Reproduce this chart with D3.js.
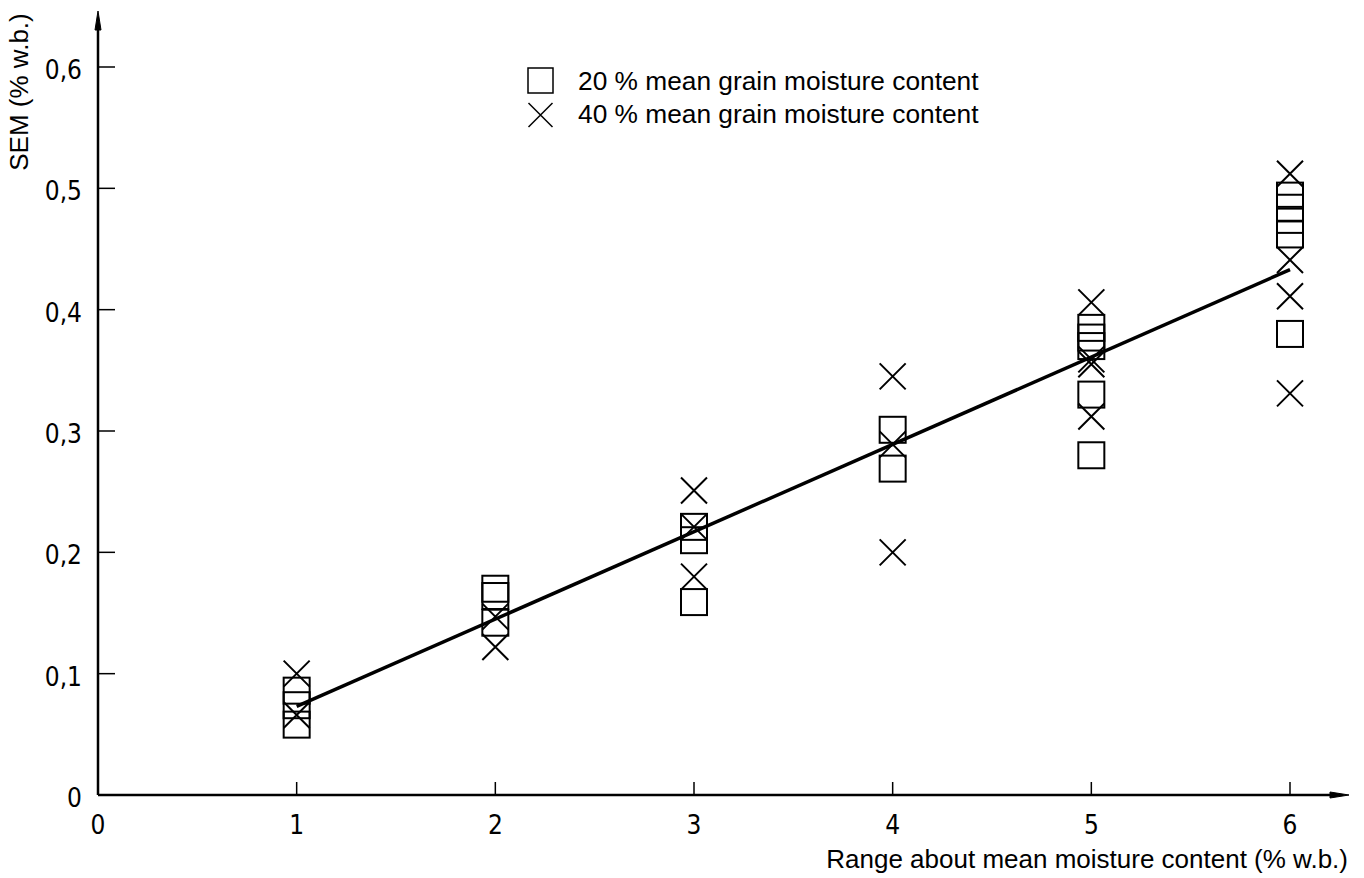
<!DOCTYPE html>
<html>
<head>
<meta charset="utf-8">
<script src="https://cdn.jsdelivr.net/npm/d3@7/dist/d3.min.js"></script>
<style>
  body { margin: 0; background: #fff; }
  svg { display: block; }
</style>
</head>
<body>
<div id="chart"></div>
<script>
// data
var xTicks = [0, 1, 2, 3, 4, 5, 6];
var yTicks = [0, 0.1, 0.2, 0.3, 0.4, 0.5, 0.6];

// 20 % mean grain moisture content (squares)
var squaresX = [1, 1, 1, 2, 2, 2, 3, 3, 3, 4, 4, 5, 5, 5, 5, 5, 6, 6, 6, 6, 6];
var squaresY = [0.086, 0.074, 0.058, 0.170, 0.164, 0.142, 0.221, 0.210, 0.159, 0.301, 0.269,
                0.385, 0.377, 0.370, 0.330, 0.280, 0.494, 0.484, 0.474, 0.462, 0.380];

// 40 % mean grain moisture content (crosses)
var crossesX = [1, 1, 2, 2, 3, 3, 3, 4, 4, 4, 5, 5, 5, 5, 6, 6, 6, 6];
var crossesY = [0.100, 0.066, 0.147, 0.122, 0.251, 0.221, 0.180, 0.345, 0.289, 0.200,
                0.406, 0.359, 0.355, 0.312, 0.512, 0.441, 0.411, 0.331];

// fitted line
var fitX = [1, 6];
var fitY = [0.073, 0.433];

var legendLabels = ["20 % mean grain moisture content", "40 % mean grain moisture content"];

const width = 1364, height = 878;
const tickFont = "'DejaVu Sans Condensed', 'Liberation Sans Narrow', sans-serif";
const textFont = "'Liberation Sans', Arial, sans-serif";

const svg = d3.select("#chart")
  .append("svg")
  .attr("width", width)
  .attr("height", height);

const x = d3.scaleLinear().domain([0, 6]).range([98, 1290]);
const y = d3.scaleLinear().domain([0, 0.6]).range([795, 67]);

// axes lines with arrows
svg.append("line")
  .attr("x1", x(0)).attr("y1", y(0))
  .attr("x2", 1340).attr("y2", y(0))
  .attr("stroke", "#000").attr("stroke-width", 2.5);
svg.append("path")
  .attr("d", `M1349,${y(0)} L1330,${y(0) - 3} L1330,${y(0) + 3} Z`)
  .attr("fill", "#000").attr("stroke", "#000").attr("stroke-width", 1);

svg.append("line")
  .attr("x1", x(0)).attr("y1", y(0))
  .attr("x2", x(0)).attr("y2", 22)
  .attr("stroke", "#000").attr("stroke-width", 2.5);
svg.append("path")
  .attr("d", `M${x(0)},11 L${x(0) - 3},30 L${x(0) + 3},30 Z`)
  .attr("fill", "#000").attr("stroke", "#000").attr("stroke-width", 1);

// x ticks (pointing up, inside)
svg.append("g")
  .selectAll("line")
  .data(xTicks.filter(d => d > 0))
  .join("line")
  .attr("x1", d => x(d)).attr("x2", d => x(d))
  .attr("y1", y(0)).attr("y2", y(0) - 13)
  .attr("stroke", "#000").attr("stroke-width", 1.5);

svg.append("g")
  .selectAll("text")
  .data(xTicks)
  .join("text")
  .attr("x", d => x(d))
  .attr("y", 834)
  .attr("text-anchor", "middle")
  .style("font-family", tickFont)
  .style("font-size", "26px")
  .text(d => d);

// y ticks (pointing right, inside)
svg.append("g")
  .selectAll("line")
  .data(yTicks.filter(d => d > 0))
  .join("line")
  .attr("x1", x(0)).attr("x2", x(0) + 17)
  .attr("y1", d => y(d)).attr("y2", d => y(d))
  .attr("stroke", "#000").attr("stroke-width", 1.5);

svg.append("g")
  .selectAll("text")
  .data(yTicks)
  .join("text")
  .attr("x", 82)
  .attr("y", d => y(d) + 12)
  .attr("text-anchor", "end")
  .style("font-family", tickFont)
  .style("font-size", "26px")
  .text(d => d === 0 ? "0" : d3.format(".1f")(d).replace(".", ","));

// axis titles
svg.append("text")
  .attr("transform", "translate(28, 92) rotate(-90)")
  .attr("text-anchor", "middle")
  .style("font-family", textFont)
  .style("font-size", "26px")
  .text("SEM (% w.b.)");

svg.append("text")
  .attr("x", 1348)
  .attr("y", 868)
  .attr("text-anchor", "end")
  .style("font-family", textFont)
  .style("font-size", "26px")
  .text("Range about mean moisture content (% w.b.)");

// fitted line
svg.append("path")
  .datum(fitX.map((d, i) => [d, fitY[i]]))
  .attr("fill", "none")
  .attr("stroke", "#000")
  .attr("stroke-width", 3.5)
  .attr("d", d3.line().x(d => x(d[0])).y(d => y(d[1])));

// markers
const half = 13;
svg.append("g")
  .selectAll("rect")
  .data(squaresX.map((d, i) => [d, squaresY[i]]))
  .join("rect")
  .attr("x", d => x(d[0]) - half)
  .attr("y", d => y(d[1]) - half)
  .attr("width", half * 2)
  .attr("height", half * 2)
  .attr("fill", "none")
  .attr("stroke", "#000")
  .attr("stroke-width", 2);

function crossPath(cx, cy, h) {
  return `M${cx - h},${cy - h} L${cx + h},${cy + h} M${cx - h},${cy + h} L${cx + h},${cy - h}`;
}

svg.append("g")
  .selectAll("path")
  .data(crossesX.map((d, i) => [d, crossesY[i]]))
  .join("path")
  .attr("d", d => crossPath(x(d[0]), y(d[1]), half))
  .attr("fill", "none")
  .attr("stroke", "#000")
  .attr("stroke-width", 2);

// legend
const legend = svg.append("g");
legend.append("rect")
  .attr("x", 528).attr("y", 68)
  .attr("width", 25).attr("height", 25)
  .attr("fill", "none").attr("stroke", "#000").attr("stroke-width", 1.5);
legend.append("path")
  .attr("d", crossPath(540.5, 115, 12))
  .attr("fill", "none").attr("stroke", "#000").attr("stroke-width", 1.5);
legend.selectAll("text")
  .data(legendLabels)
  .join("text")
  .attr("x", 578)
  .attr("y", (d, i) => 90 + i * 33)
  .style("font-family", textFont)
  .style("font-size", "26.3px")
  .text(d => d);
</script>
</body>
</html>
